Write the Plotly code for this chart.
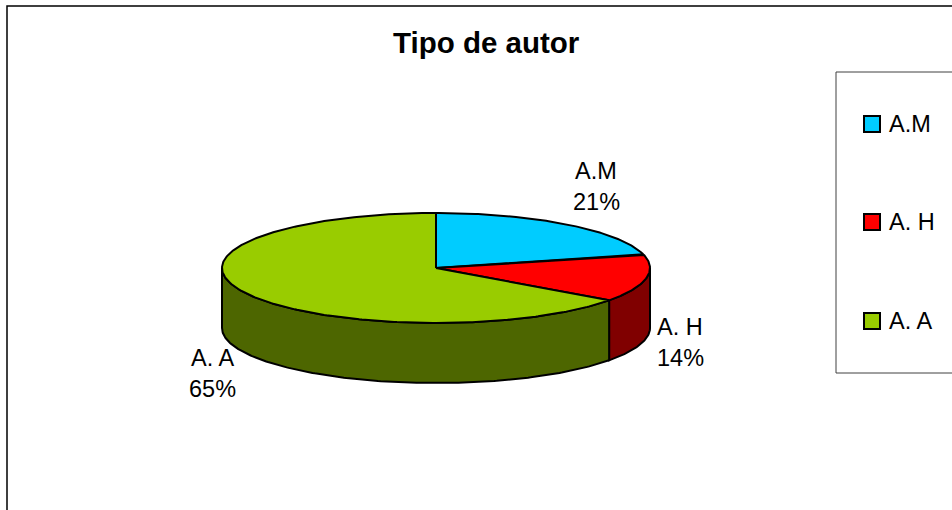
import math
import plotly.graph_objects as go

# ---- data ----
categories = ["A.M", "A. H", "A. A"]
values = [21, 14, 65]
top_colors = ["#00CCFF", "#FF0000", "#99CC00"]
side_colors = ["#006680", "#800000", "#4D6600"]
title_text = "Tipo de autor"

# ---- layout constants (pixels) ----
W, H = 952, 510
CX, CY = 436, 268          # ellipse centre
RA, RB = 214, 55           # radii
DEPTH = 60                 # pie thickness
FONT = "Liberation Sans, Arial, sans-serif"
LBL_SIZE = 23.5
label_pos = [(596, 186), (680, 342), (212, 373)]   # centre of two-line label
legend_x_box, legend_x_text = 872, 887
legend_y = [124, 222, 321]


def pt(theta, dy=0.0):
    r = math.radians(theta)
    return CX + RA * math.sin(r), CY - RB * math.cos(r) + dy


def arc(t0, t1, dy=0.0, n=120):
    steps = max(2, int(abs(t1 - t0) / 360 * n * 4))
    xs, ys = [], []
    for i in range(steps + 1):
        t = t0 + (t1 - t0) * i / steps
        x, y = pt(t, dy)
        xs.append(x)
        ys.append(y)
    return xs, ys


total = sum(values)
angles = []
acc = 0.0
for v in values:
    a0 = acc / total * 360
    acc += v
    a1 = acc / total * 360
    angles.append((a0, a1))

fig = go.Figure()

# side walls (front half only: 90..270 deg)
for (a0, a1), col in zip(angles, side_colors):
    lo, hi = max(a0, 90), min(a1, 270)
    if lo < hi:
        x1, y1 = arc(lo, hi)
        x2, y2 = arc(hi, lo, DEPTH)
        fig.add_trace(go.Scatter(x=x1 + x2 + [x1[0]], y=y1 + y2 + [y1[0]],
                                 mode="lines", fill="toself", fillcolor=col,
                                 line=dict(color="black", width=2),
                                 hoverinfo="skip", showlegend=False))

# top faces
for (a0, a1), col in zip(angles, top_colors):
    xs, ys = arc(a0, a1)
    fig.add_trace(go.Scatter(x=[CX] + xs + [CX], y=[CY] + ys + [CY],
                             mode="lines", fill="toself", fillcolor=col,
                             line=dict(color="black", width=2),
                             hoverinfo="skip", showlegend=False))

# data labels
for name, v, (lx, ly) in zip(categories, values, label_pos):
    pct = round(v / total * 100)
    fig.add_annotation(x=lx, y=ly - 15.5, text=name, showarrow=False,
                       xanchor="center", yanchor="middle",
                       font=dict(family=FONT, size=LBL_SIZE, color="black"))
    fig.add_annotation(x=lx, y=ly + 15.5, text=f"{pct}%", showarrow=False,
                       xanchor="center", yanchor="middle",
                       font=dict(family=FONT, size=LBL_SIZE, color="black"))

# title
fig.add_annotation(x=486, y=42, text=f"<b>{title_text}</b>", showarrow=False,
                   xanchor="center", yanchor="middle",
                   font=dict(family=FONT, size=29.5, color="black"))

shapes = [
    # chart area border
    dict(type="rect", x0=7, y0=6, x1=W + 10, y1=H + 10, xref="x", yref="y",
         line=dict(color="#000000", width=1.5), layer="below"),
    # legend border
    dict(type="rect", x0=836, y0=72, x1=W + 10, y1=373, xref="x", yref="y",
         line=dict(color="#404040", width=1), layer="below"),
]
for name, col, ly in zip(categories, top_colors, legend_y):
    shapes.append(dict(type="rect", x0=legend_x_box - 8, x1=legend_x_box + 8,
                       y0=ly - 8, y1=ly + 8, xref="x", yref="y",
                       fillcolor=col, line=dict(color="black", width=2)))
    fig.add_annotation(x=legend_x_text, y=ly, text=name, showarrow=False,
                       xanchor="left", yanchor="middle",
                       font=dict(family=FONT, size=LBL_SIZE, color="black"))

fig.update_layout(
    width=W, height=H, autosize=False,
    margin=dict(l=0, r=0, t=0, b=0),
    paper_bgcolor="white", plot_bgcolor="white",
    xaxis=dict(range=[0, W], visible=False, fixedrange=True),
    yaxis=dict(range=[H, 0], visible=False, fixedrange=True),
    shapes=shapes,
    showlegend=False,
)

fig.write_html("out.html", config={"displayModeBar": False},
               post_script="document.body.style.margin='0';document.body.style.overflow='hidden';")
